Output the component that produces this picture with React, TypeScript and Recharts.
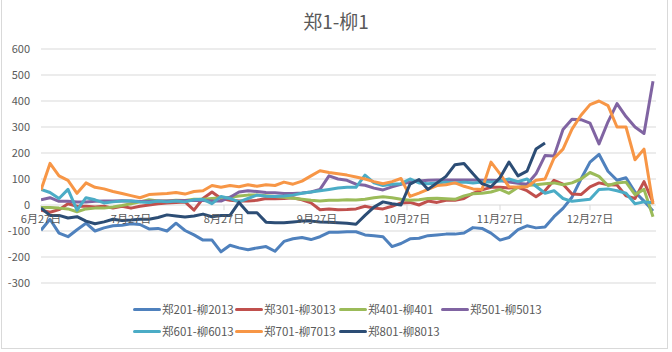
import React from 'react';
import { LineChart, Line, XAxis, YAxis, CartesianGrid, ReferenceLine, Legend } from 'recharts';

const FONT = '"Noto Sans CJK SC", "Noto Sans", sans-serif';

// trading-day offsets from 6月27日
const days = [
  0, 3, 6, 9, 12, 15, 18, 21, 24, 27,
  30, 33, 36, 39, 42, 45, 48, 51, 54, 57,
  60, 63, 66, 69, 72, 75, 78, 81, 84, 87,
  90, 93, 96, 99, 102, 105, 108, 111, 114, 117,
  120, 123, 126, 129, 132, 135, 138, 141, 144, 147,
  150, 153, 156, 159, 162, 165, 168, 171, 174, 177,
  180, 183, 186, 189, 192, 195, 198, 201, 204,
];

const s201 = [
  -97, -55, -108, -122, -95, -70, -100, -88, -80, -78,
  -72, -75, -92, -90, -100, -70, -98, -115, -135, -135,
  -180, -155, -165, -172, -165, -160, -178, -140, -130, -125,
  -133, -122, -105, -105, -103, -103, -115, -118, -122, -160,
  -148, -130, -128, -118, -115, -112, -112, -108, -87, -90,
  -108, -135, -125, -95, -80, -88, -85, -45, -13, 30,
  100, 165, 195, 130, 95, 105, 50, 15, -23,
];
const s301 = [
  -20, -28, -18, 5, -5, -5, -8, -5, -12, -5,
  -12, -5, 0, 5, 8, 10, 12, -20, 25, 50,
  25, 18, 15, 15, 18, 25, 24, 25, 28, 20,
  8, -18, -15, -18, -17, -15, -5, -12, -15, -5,
  8, 10, 0, 15, 10, 18, 18, 25, 45, 58,
  68, 68, 65, 68, 55, 32, 55, 95, 80, 42,
  40, 70, 85, 78, 77, 35, 25, 90, 10,
];
const s401 = [
  -10, -10, -12, -15, -26, -15, -12, -12, -8, -2,
  5, 12, 20, 15, 15, 18, 17, 22, 22, 25,
  28, 30, 35, 38, 38, 36, 33, 30, 26, 22,
  18, 15, 18, 18, 20, 19, 22, 28, 32, 28,
  22, 18, 20, 25, 26, 24, 22, 35, 43, 45,
  50, 60, 45, 68, 75, 78, 82, 85, 78, 85,
  100, 125, 110, 75, 85, 88, 40, 60, -45,
];
const s501 = [
  20, 28, 14, 14, 12, 12, 14, 15, 15, 16,
  15, 13, 14, 15, 15, 16, 17, 17, 17, 15,
  15, 30, 50, 55, 52, 48, 47, 44, 44, 46,
  50, 60, 112, 100, 95, 80, 76, 65, 58, 70,
  80, 88, 92, 95, 96, 96, 96, 96, 96, 95,
  95, 94, 88, 84, 80, 120, 190, 188, 290, 330,
  328, 315, 235, 320, 390, 340, 300, 275, 476,
];
const s601 = [
  60, 48, 25, 60, -20, 28, 20, 8, 12, 15,
  15, 12, 10, 15, 12, 15, 12, 20, 22, 5,
  33, 25, 12, 25, 38, 34, 33, 35, 38, 45,
  50, 55, 60, 65, 68, 68, 115, 85, 75, 80,
  82, 100, 85, 82, 85, 88, 85, 88, 85, 88,
  88, 92, 100, 90, 100, 72, 45, 55, 25, 14,
  18, 22, 60, 62, 55, 45, 5, 12, 9,
];
const s701 = [
  58, 160, 112, 95, 45, 85, 68, 62, 52, 44,
  36, 28, 40, 42, 44, 48, 42, 52, 55, 75,
  68, 75, 70, 78, 72, 78, 75, 88, 80, 92,
  112, 132, 125, 120, 115, 108, 100, 90, 82, 90,
  102, 33, 46, 60, 75, 78, 85, 72, 62, 60,
  165, 120, 70, 68, 70, 95, 100, 180, 215, 292,
  345, 386, 400, 382, 300, 300, 174, 215, 3,
];
const s801 = [
  -12, -40, -40, -50, -45, -62, -72, -65, -55, -60,
  -58, -55, -55, -48, -38, -42, -46, -42, -35, -45,
  -40, -40, 10, -30, -30, -66, -68, -68, -65, -62,
  -62, -65, -66, -68, -70, -74, -40, -8, 12, 5,
  0, 80, 98, 60, 85, 110, 155, 160, 120, 82,
  70, 105, 165, 112, 130, 215, 238, null, null, null,
  null, null, null, null, null, null, null, null, null,
];

const seriesNames = ['郑201-柳2013', '郑301-柳3013', '郑401-柳401', '郑501-柳5013', '郑601-柳6013', '郑701-柳7013', '郑801-柳8013'];
const seriesKeys = ['s201', 's301', 's401', 's501', 's601', 's701', 's801'];
const seriesColors = ['#4F81BD', '#C0504D', '#9BBB59', '#8064A2', '#4BACC6', '#F79646', '#2C4D75'];

const monthTickDays = [0, 30, 61, 92, 122, 153, 183];
const monthTickLabels = ['6月27日', '7月27日', '8月27日', '9月27日', '10月27日', '11月27日', '12月27日'];
const yTicks = [-300, -200, -100, 0, 100, 200, 300, 400, 500, 600];

const seriesValues = [s201, s301, s401, s501, s601, s701, s801];
const data = days.map((d, i) => {
  const row: any = { day: d };
  seriesKeys.forEach((k, j) => { row[k] = seriesValues[j][i]; });
  return row;
});

const legendCols = [133, 235, 339, 441];

function LegendContent(props: any) {
  const payload = props.payload || [];
  return (
    <div style={{ position: 'relative', width: 672, height: 44 }}>
      {payload.map((entry: any, i: number) => {
        const col = i % 4;
        const row = Math.floor(i / 4);
        return (
          <div key={String(entry.value)} style={{ position: 'absolute', left: legendCols[col], top: row * 22, height: 16, display: 'flex', alignItems: 'center', whiteSpace: 'nowrap' }}>
            <span style={{ display: 'inline-block', width: 28, height: 3, borderRadius: 1.5, background: entry.color, marginRight: 1 }} />
            <span style={{ fontSize: 11.5, color: '#595959', fontFamily: FONT, lineHeight: '16px' }}>{entry.value}</span>
          </div>
        );
      })}
    </div>
  );
}

export default function App() {
  return (
    <div style={{ position: 'absolute', left: 0, top: 0, width: 672, height: 352, background: '#fff', fontFamily: FONT }}>
      <div style={{ position: 'absolute', left: 1, top: -1, width: 665, height: 349, borderLeft: '1px solid #D9D9D9', borderRight: '1px solid #D9D9D9', borderBottom: '1px solid #D9D9D9' }} />
      <div style={{ position: 'absolute', left: 0, top: 9, width: 672, height: 24, lineHeight: '24px', textAlign: 'center', fontSize: 19, color: '#595959', fontFamily: FONT }}>郑1-柳1</div>
      <div style={{ position: 'absolute', left: 0, top: 0 }}>
        <LineChart width={672} height={352} data={data} margin={{ top: 49, right: 16, bottom: 69, left: 0 }} style={{ fontFamily: FONT }}>
          <CartesianGrid vertical={false} stroke="#D9D9D9" strokeWidth={1} />
          <XAxis type="number" dataKey="day" domain={[0, 205]} hide allowDataOverflow />
          <YAxis
            type="number"
            domain={[-300, 600]}
            ticks={yTicks}
            interval={0}
            width={41}
            axisLine={false}
            tickLine={false}
            tickSize={8}
            tickMargin={3}
            tick={{ fontSize: 11, fill: '#595959', fontFamily: FONT }}
          />
          {monthTickDays.map((d, i) => (
            <ReferenceLine
              key={'t' + d}
              segment={[{ x: d, y: 0 }, { x: d, y: -20 }]}
              stroke="#D9D9D9"
              strokeWidth={1}
              ifOverflow="visible"
              label={{ value: monthTickLabels[i], position: 'bottom', offset: 5, fill: '#595959', fontSize: 11, fontFamily: FONT }}
            />
          ))}
          <Legend
            layout="horizontal"
            verticalAlign="middle"
            align="center"
            wrapperStyle={{ top: 301, left: 0, width: 672 }}
            content={(p: any) => <LegendContent {...p} />}
          />
          {seriesKeys.map((k, i) => (
            <Line
              key={k}
              type="linear"
              dataKey={k}
              name={seriesNames[i]}
              stroke={seriesColors[i]}
              strokeWidth={3}
              strokeLinejoin="round"
              dot={false}
              activeDot={false}
              isAnimationActive={false}
            />
          ))}
        </LineChart>
      </div>
    </div>
  );
}
